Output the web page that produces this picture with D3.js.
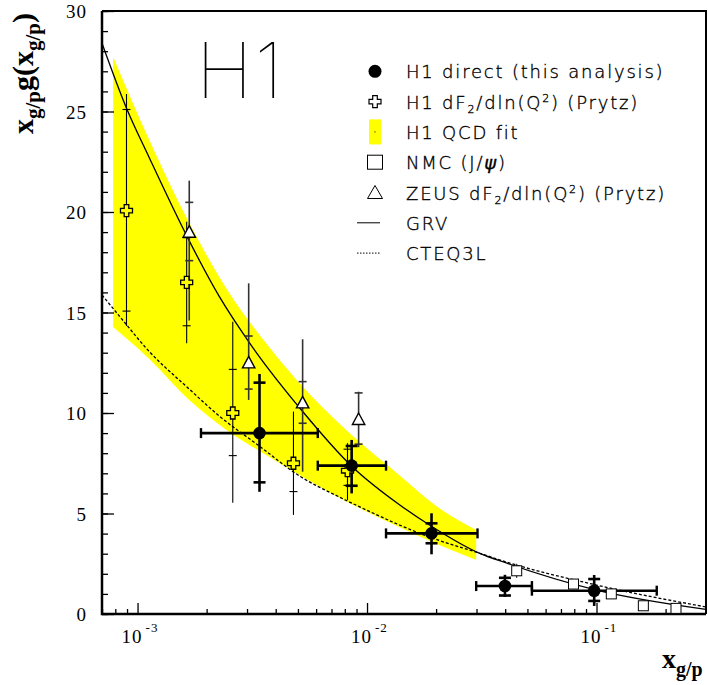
<!DOCTYPE html>
<html><head><meta charset="utf-8">
<script src="https://cdn.jsdelivr.net/npm/d3@7"></script>
<style>body{margin:0;background:#fff} svg{display:block}</style>
</head><body>
<svg id="c" width="708" height="685"></svg>
<script>
// ---------- data ----------
const xDomain = [7e-4, 0.3];
const yDomain = [0, 30];
const yMajorTicks = [0, 5, 10, 15, 20, 25, 30];
const xMajorTicks = [1e-3, 1e-2, 1e-1];
const xMajorExp = ["-3", "-2", "-1"];

// H1 direct (this analysis)
const h1X    = [3.4e-3, 8.57e-3, 0.0191, 0.0399, 0.0977];
const h1Y    = [9.0, 7.38, 4.01, 1.39, 1.16];
const h1XLo  = [1.89e-3, 6.1e-3, 0.0121, 0.0299, 0.0523];
const h1XHi  = [6.1e-3, 0.0121, 0.0303, 0.0523, 0.183];
const h1CapHi = [11.51, 8.36, 4.51, 1.80, 1.74];
const h1CapLo = [6.55, 6.38, 3.52, 0.92, 0.65];
const h1TotHi = [11.94, 8.66, 5.01, 1.95, 1.94];
const h1TotLo = [6.08, 6.00, 2.97, 0.85, 0.40];

// H1 dF2/dln(Q2) (Prytz)
const pzX = [8.95e-4, 1.637e-3, 2.6e-3, 4.78e-3, 8.22e-3];
const pzY = [20.07, 16.5, 10.0, 7.5, 7.13];
const pzTotHi = [25.87, 19.52, 14.54, 10.07, 8.5];
const pzTotLo = [14.33, 13.47, 5.54, 4.93, 5.67];
const pzCapHi = [25.1, 18.72, 12.17, 8.99, 8.2];
const pzCapLo = [15.07, 14.34, 7.88, 6.09, 6.4];

// ZEUS dF2/dln(Q2) (Prytz)
const zX = [1.68e-3, 3.05e-3, 5.24e-3, 9.19e-3];
const zY = [18.97, 12.47, 10.48, 9.65];
const zTotHi = [21.56, 16.45, 13.67, 11.06];
const zTotLo = [14.6, 10.65, 7.08, 8.3];
const zCapHi = [20.48, 13.83, 11.56, 11.0];
const zCapLo = [17.58, 11.19, 9.49, 8.45];

// NMC (J/psi)
const nX = [0.0449, 0.0794, 0.116, 0.160, 0.222];
const nY = [2.15, 1.49, 1.0, 0.41, 0.28];
const nErr = [0.35, 0.15, 0.15, 0.1, 0.1];

// H1 QCD fit band
const bandX  = [7.83e-4, 1.125e-3, 1.68e-3, 2.51e-3, 3.57e-3, 5.07e-3, 8.38e-3, 0.0138, 0.0206, 0.0299];
const bandHi = [27.71, 23.58, 19.45, 15.97, 13.58, 11.49, 9.0, 6.92, 5.27, 4.18];
const bandLo = [14.28, 12.69, 10.65, 9.05, 7.96, 6.92, 5.52, 4.33, 3.43, 2.69];

// GRV
const grvX = [7e-4, 9e-4, 1.125e-3, 1.64e-3, 2.27e-3, 3.07e-3, 5.22e-3, 8.53e-3, 0.0138, 0.019, 0.0308, 0.0404, 0.1, 0.3];
const grvY = [28.4, 25.1, 22.7, 18.8, 15.8, 13.5, 10.1, 7.38, 5.45, 4.38, 3.03, 2.54, 1.19, 0.23];
// CTEQ3L
const cteqX = [7e-4, 8.75e-4, 1.09e-3, 1.68e-3, 2.27e-3, 3.39e-3, 5.07e-3, 7.57e-3, 9.53e-3, 0.0187, 0.0308, 0.0404, 0.1, 0.3];
const cteqY = [15.87, 14.53, 13.23, 11.19, 9.85, 8.36, 6.87, 5.82, 5.27, 3.83, 3.03, 2.59, 1.44, 0.35];

const legendLabels = ["H1 direct (this analysis)", "H1 dF2/dln(Q2) (Prytz)", "H1 QCD fit", "NMC (J/ψ)", "ZEUS dF2/dln(Q2) (Prytz)", "GRV", "CTEQ3L"];

// ---------- drawing ----------
const svg = d3.select("#c");
const L = 102, R = 706, T = 11, B = 614;
const x = d3.scaleLog().domain(xDomain).range([L, R]);
const y = d3.scaleLinear().domain(yDomain).range([B, T]);
const YEL = "#ffff00";
const serif = "'Liberation Serif','Times New Roman',serif";

// band
const band = bandX.map((v, i) => ({x: v, hi: bandHi[i], lo: bandLo[i]}));
svg.append("path").datum(band)
  .attr("d", d3.area().x(d => x(d.x)).y0(d => y(d.lo)).y1(d => y(d.hi)).curve(d3.curveMonotoneX))
  .attr("fill", YEL).attr("stroke", "none");

// curves
const line = d3.line().x(d => x(d[0])).y(d => y(d[1])).curve(d3.curveMonotoneX);
svg.append("path").datum(grvX.map((v, i) => [v, grvY[i]]))
  .attr("d", line).attr("fill", "none").attr("stroke", "#000").attr("stroke-width", 1.3);
svg.append("path").datum(cteqX.map((v, i) => [v, cteqY[i]]))
  .attr("d", line).attr("fill", "none").attr("stroke", "#000").attr("stroke-width", 1.3)
  .attr("stroke-dasharray", "3,2");

// axes
const gAx = svg.append("g");
const yMinor = d3.range(yDomain[0], yDomain[1] + 1, 1);
gAx.append("g").attr("transform", `translate(${L},0)`)
  .call(d3.axisLeft(y).tickValues(yMinor).tickSize(-6).tickFormat(""))
  .call(g => g.select(".domain").remove());
gAx.append("g").attr("transform", `translate(${L},0)`)
  .call(d3.axisLeft(y).tickValues(yMajorTicks).tickSize(-12).tickPadding(15).tickFormat(d3.format("d")))
  .call(g => g.select(".domain").remove())
  .call(g => g.selectAll("text").attr("font-family", serif)
      .attr("font-size", 19).attr("fill", "#000").attr("letter-spacing", 1).attr("dy", "0.36em"));

const xMinor = [];
[1e-4, 1e-3, 1e-2, 1e-1].forEach(dec => { for (let k = 2; k <= 9; k++) { const v = k * dec; if (v >= xDomain[0] && v <= xDomain[1]) xMinor.push(v); } });
gAx.append("g").attr("transform", `translate(0,${B})`)
  .call(d3.axisBottom(x).tickValues(xMinor).tickSize(-5).tickFormat(""))
  .call(g => g.select(".domain").remove());
gAx.append("g").attr("transform", `translate(0,${B})`)
  .call(d3.axisBottom(x).tickValues(xMajorTicks).tickSize(-11).tickFormat(""))
  .call(g => g.select(".domain").remove());
gAx.selectAll("line").attr("stroke", "#000").attr("stroke-width", 1.3);

xMajorTicks.forEach((v, i) => {
  const t = svg.append("text").attr("x", x(v) - 16).attr("y", 643)
    .attr("font-family", serif).attr("font-size", 19).attr("letter-spacing", 1);
  t.append("tspan").text("10");
  t.append("tspan").attr("dx", 3).attr("dy", -11).attr("font-size", 13).text(xMajorExp[i]);
});

// frame
svg.append("path").attr("d", `M${L},${T}H${R}V${B}`).attr("fill", "none").attr("stroke", "#000").attr("stroke-width", 2);
svg.append("path").attr("d", `M${L},${T}V${B}H${R}`).attr("fill", "none").attr("stroke", "#000").attr("stroke-width", 2.5);

// axis titles
const ylab = svg.append("text").attr("transform", "translate(33,134) rotate(-90)")
  .attr("font-family", serif).attr("font-weight", "bold").attr("font-size", 30);
ylab.append("tspan").text("x");
ylab.append("tspan").attr("font-size", 21).attr("dy", 7).text("g/p");
ylab.append("tspan").attr("dy", -7).text("g(x");
ylab.append("tspan").attr("font-size", 21).attr("dy", 7).text("g/p");
ylab.append("tspan").attr("dy", -7).text(")");

const xlab = svg.append("text").attr("x", 662).attr("y", 668)
  .attr("font-family", serif).attr("font-weight", "bold").attr("font-size", 28);
xlab.append("tspan").text("x");
xlab.append("tspan").attr("font-size", 20).attr("dy", 8).text("g/p");

// error bars helper
function vbar(g, xv, lo, hi, capLo, capHi, sw, cw, col) {
  g.append("line").attr("x1", x(xv)).attr("x2", x(xv)).attr("y1", y(lo)).attr("y2", y(hi))
    .attr("stroke", col).attr("stroke-width", sw);
  [capLo, capHi].forEach(c => g.append("line").attr("x1", x(xv) - cw).attr("x2", x(xv) + cw)
    .attr("y1", y(c)).attr("y2", y(c)).attr("stroke", col).attr("stroke-width", sw));
}
const gErr = svg.append("g");
pzX.forEach((v, i) => vbar(gErr, v, pzTotLo[i], pzTotHi[i], pzCapLo[i], pzCapHi[i], 1.1, 4, "#000"));
zX.forEach((v, i) => vbar(gErr, v, zTotLo[i], zTotHi[i], zCapLo[i], zCapHi[i], 1.6, 4, "#333"));
nX.forEach((v, i) => gErr.append("line").attr("x1", x(v)).attr("x2", x(v))
  .attr("y1", y(nY[i] - nErr[i])).attr("y2", y(nY[i] + nErr[i])).attr("stroke", "#000").attr("stroke-width", 1));
h1X.forEach((v, i) => {
  vbar(gErr, v, h1TotLo[i], h1TotHi[i], h1CapLo[i], h1CapHi[i], 2.6, 6, "#000");
  gErr.append("line").attr("x1", x(h1XLo[i])).attr("x2", x(h1XHi[i])).attr("y1", y(h1Y[i])).attr("y2", y(h1Y[i]))
    .attr("stroke", "#000").attr("stroke-width", 2.6);
  [h1XLo[i], h1XHi[i]].forEach(e => gErr.append("line").attr("x1", x(e)).attr("x2", x(e))
    .attr("y1", y(h1Y[i]) - 5).attr("y2", y(h1Y[i]) + 5).attr("stroke", "#000").attr("stroke-width", 2.4));
});

// markers
const crossPath = (a, l) => `M${-a},${-l}H${a}V${-a}H${l}V${a}H${a}V${l}H${-a}V${a}H${-l}V${-a}H${-a}Z`;
const triPath = "M0,-7L6.2,4.5L-6.2,4.5Z";
const gM = svg.append("g");
nX.forEach((v, i) => gM.append("rect").attr("x", x(v) - 5).attr("y", y(nY[i]) - 5).attr("width", 10).attr("height", 10)
  .attr("fill", "#fff").attr("stroke", "#000").attr("stroke-width", 1));
zX.forEach((v, i) => gM.append("path").attr("d", triPath).attr("transform", `translate(${x(v)},${y(zY[i])})`)
  .attr("fill", "#fff").attr("stroke", "#000").attr("stroke-width", 1.4));
pzX.forEach((v, i) => gM.append("path").attr("d", crossPath(2.3, 6)).attr("transform", `translate(${x(v)},${y(pzY[i])})`)
  .attr("fill", YEL).attr("stroke", "#000").attr("stroke-width", 1.3));
h1X.forEach((v, i) => gM.append("circle").attr("cx", x(v)).attr("cy", y(h1Y[i])).attr("r", 6.3).attr("fill", "#000"));

// H1 logo
svg.append("text").attr("x", 196).attr("y", 98)
  .attr("font-family", "Inter, Lato, 'DejaVu Sans', sans-serif").attr("font-weight", 100)
  .attr("font-size", 77).attr("fill", "#000").attr("letter-spacing", 2).text("H1");

// legend
const sans = "'DejaVu Sans', sans-serif";
const lg = svg.append("g");
const lx = 375, tx = 406;
legendLabels.forEach((lab, i) => {
  const base = 78.3 + 30.3 * i, cy = base - 7;
  const t = lg.append("text").attr("x", tx).attr("y", base).attr("font-family", sans).attr("font-weight", 200)
    .attr("font-size", 18).attr("letter-spacing", 1.8).attr("fill", "#000")
    .attr("stroke", "#000").attr("stroke-width", 0.35);
  if (i === 1 || i === 4) {
    const pre = i === 1 ? "H1 dF" : "ZEUS dF";
    t.append("tspan").text(pre);
    t.append("tspan").attr("font-size", 11).attr("dy", 4).text("2");
    t.append("tspan").attr("dy", -4).text("/dln(Q");
    t.append("tspan").attr("font-size", 11).attr("dy", -7).text("2");
    t.append("tspan").attr("dy", 7).text(") (Prytz)");
  } else if (i === 3) {
    t.append("tspan").text("NMC (J/");
    t.append("tspan").attr("font-style", "italic").text("ψ");
    t.append("tspan").text(")");
  } else {
    t.text(lab);
  }
  if (i === 0) lg.append("circle").attr("cx", lx).attr("cy", cy).attr("r", 6.5).attr("fill", "#000");
  if (i === 1) lg.append("path").attr("d", crossPath(2.3, 6)).attr("transform", `translate(${lx},${cy})`)
    .attr("fill", "#fff").attr("stroke", "#000").attr("stroke-width", 1.2);
  if (i === 2) {
    lg.append("rect").attr("x", lx - 6).attr("y", cy - 12.5).attr("width", 12).attr("height", 25).attr("fill", YEL);
    lg.append("rect").attr("x", lx - 0.5).attr("y", cy - 0.5).attr("width", 1).attr("height", 1).attr("fill", "#000");
  }
  if (i === 3) lg.append("rect").attr("x", lx - 7.5).attr("y", cy - 7).attr("width", 15).attr("height", 14)
    .attr("fill", "#fff").attr("stroke", "#000").attr("stroke-width", 1);
  if (i === 4) lg.append("path").attr("d", "M0,-7L7.5,6L-7.5,6Z").attr("transform", `translate(${lx},${cy})`)
    .attr("fill", "#fff").attr("stroke", "#000").attr("stroke-width", 1);
  if (i === 5) lg.append("line").attr("x1", 357).attr("x2", 380).attr("y1", cy).attr("y2", cy).attr("stroke", "#000").attr("stroke-width", 1);
  if (i === 6) lg.append("line").attr("x1", 357).attr("x2", 380).attr("y1", cy).attr("y2", cy).attr("stroke", "#000")
    .attr("stroke-width", 1).attr("stroke-dasharray", "1.5,1.5");
});
</script>
</body></html>
